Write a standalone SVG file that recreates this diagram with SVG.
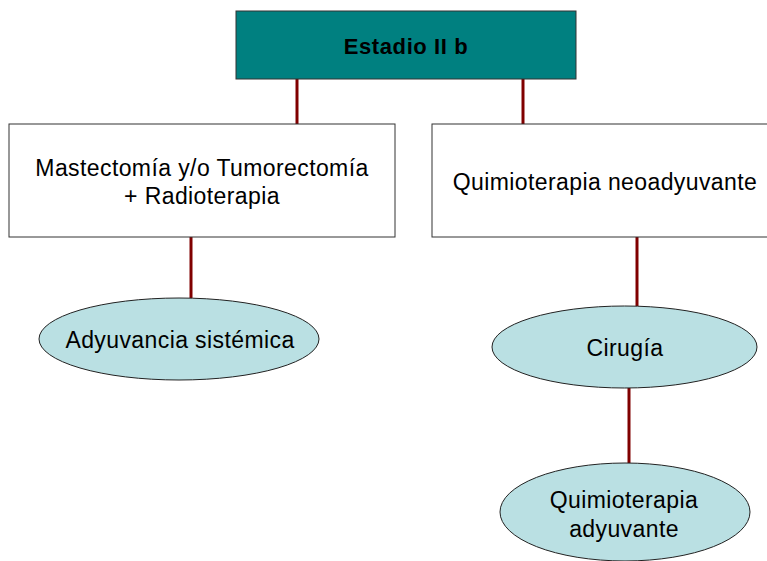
<svg xmlns="http://www.w3.org/2000/svg" width="767" height="561" viewBox="0 0 767 561">
<style>
text{font-family:"Liberation Sans",Arial,sans-serif;font-size:23px;letter-spacing:0.4px;fill:#000;text-anchor:middle}
.box{fill:#fff;stroke:#333;stroke-width:1}
.ell{fill:#BAE0E3;stroke:#222;stroke-width:1}
.c{stroke:#800000;stroke-width:3;fill:none}
</style>
<rect width="767" height="561" fill="#fff"/>
<g id="connectors">
<line class="c" x1="297" y1="79" x2="297" y2="124"/>
<line class="c" x1="523" y1="79" x2="523" y2="124"/>
<line class="c" x1="191" y1="237" x2="191" y2="298"/>
<line class="c" x1="637" y1="237" x2="637" y2="306"/>
<line class="c" x1="629" y1="388" x2="629" y2="463"/>
</g>
<g id="n-top">
<rect x="236" y="11" width="340" height="68" fill="#008080" stroke="#333" stroke-width="1"/>
<text x="406" y="54" style="font-weight:bold;font-size:22px;letter-spacing:0.6px">Estadio II b</text>
</g>
<g id="n-left">
<rect class="box" x="9" y="124" width="386" height="113"/>
<text x="202" y="176">Mastectomía y/o Tumorectomía</text>
<text x="202" y="204">+ Radioterapia</text>
</g>
<g id="n-right">
<rect class="box" x="432" y="124" width="345" height="113"/>
<text x="605" y="190">Quimioterapia neoadyuvante</text>
</g>
<g id="n-adyuv">
<ellipse class="ell" cx="179" cy="339" rx="140" ry="41"/>
<text x="180" y="348">Adyuvancia sistémica</text>
</g>
<g id="n-cirugia">
<ellipse class="ell" cx="624.5" cy="347" rx="132.5" ry="41"/>
<text x="625" y="356">Cirugía</text>
</g>
<g id="n-quimio">
<ellipse class="ell" cx="625" cy="512" rx="125" ry="49"/>
<text x="624" y="508">Quimioterapia</text>
<text x="624" y="537">adyuvante</text>
</g>
</svg>
